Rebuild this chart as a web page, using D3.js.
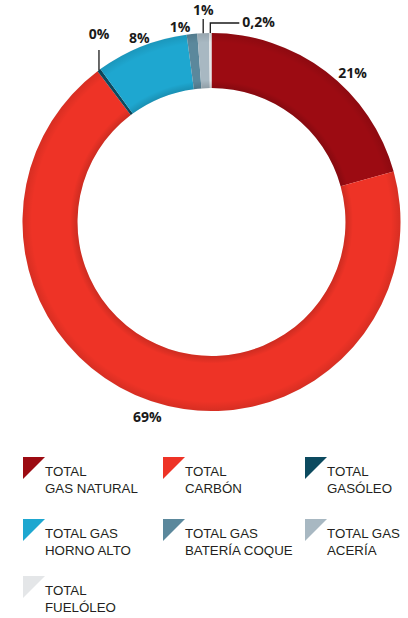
<!DOCTYPE html>
<html>
<head>
<meta charset="utf-8">
<script src="https://cdn.jsdelivr.net/npm/d3@7"></script>
<style>
  html, body { margin: 0; padding: 0; background: #fff; }
  svg { display: block; }
</style>
</head>
<body>
<div id="chart"></div>
<script>
// Datos (participación por combustible, %)
const categories = ['gasNatural', 'carbon', 'gasoleo', 'hornoAlto', 'bateriaCoque', 'aceria', 'fueloleo'];
const values = [20.7, 69.0, 0.3, 7.9, 0.9, 1.0, 0.2];
const valueLabels = ['21%', '69%', '0%', '8%', '1%', '1%', '0,2%'];
const legendLines = [
  ['TOTAL', 'GAS NATURAL'],
  ['TOTAL', 'CARBÓN'],
  ['TOTAL', 'GASÓLEO'],
  ['TOTAL GAS', 'HORNO ALTO'],
  ['TOTAL GAS', 'BATERÍA COQUE'],
  ['TOTAL GAS', 'ACERÍA'],
  ['TOTAL', 'FUELÓLEO']
];
const colors = ['#9c0b12', '#ee3326', '#0c4a5f', '#1ea7d0', '#5b889c', '#a8b8c2', '#e4e6e8'];

const width = 408, height = 618;
const cx = 211.5, cy = 222;
const outerR = 189, innerR = 134;

const svg = d3.select('#chart').append('svg')
  .attr('width', width)
  .attr('height', height);

const pie = d3.pie().sort(null).value(d => d.value);
const arc = d3.arc().innerRadius(innerR).outerRadius(outerR);

const data = categories.map((c, i) => ({ key: c, value: values[i] }));
const arcs = pie(data);

const g = svg.append('g').attr('transform', `translate(${cx},${cy})`);

g.selectAll('path.slice')
  .data(arcs)
  .enter()
  .append('path')
  .attr('class', 'slice')
  .attr('d', arc)
  .attr('fill', (d, i) => colors[i]);

// sombreado del anillo (efecto tubo)
const defs = svg.append('defs');
const grad = defs.append('radialGradient')
  .attr('id', 'ringShade')
  .attr('gradientUnits', 'userSpaceOnUse')
  .attr('cx', 0).attr('cy', 0).attr('r', outerR);
const k = innerR / outerR;
grad.append('stop').attr('offset', k).attr('stop-color', '#000').attr('stop-opacity', 0.14);
grad.append('stop').attr('offset', k + 0.04).attr('stop-color', '#000').attr('stop-opacity', 0.0);
grad.append('stop').attr('offset', 0.95).attr('stop-color', '#000').attr('stop-opacity', 0.0);
grad.append('stop').attr('offset', 1).attr('stop-color', '#000').attr('stop-opacity', 0.1);

g.append('path')
  .attr('d', d3.arc().innerRadius(innerR).outerRadius(outerR).startAngle(0).endAngle(2 * Math.PI)())
  .attr('fill', 'url(#ringShade)');

// Etiquetas
const polar = (a, r) => [Math.sin(a) * r, -Math.cos(a) * r];
const labelLayout = [
  { type: 'radial', r: 205, dx: 17, dy: 19 },
  { type: 'radial', r: 206, dx: 2, dy: 5 },
  { type: 'up', lineTo: -172, textY: -183 },
  { type: 'radial', r: 200, dx: 2, dy: 7 },
  { type: 'offset', dx: -12, textY: -190 },
  { type: 'up', lineTo: -203, textY: -207 },
  { type: 'elbow', lineTo: -199, hx: 29, textY: -195 }
];

const labelG = g.append('g')
  .attr('font-family', '"Open Sans", "DejaVu Sans", sans-serif')
  .attr('font-weight', 700)
  .attr('font-size', '14px')
  .attr('fill', '#1a1a1a');

arcs.forEach((d, i) => {
  const L = labelLayout[i];
  const mid = (d.startAngle + d.endAngle) / 2;
  const [ox, oy] = polar(mid, outerR);
  if (L.type === 'radial') {
    const [x, y] = polar(mid, L.r);
    labelG.append('text').attr('x', x + L.dx).attr('y', y + L.dy)
      .attr('text-anchor', 'middle').text(valueLabels[i]);
  } else if (L.type === 'up') {
    labelG.append('line')
      .attr('x1', ox).attr('y1', oy).attr('x2', ox).attr('y2', L.lineTo)
      .attr('stroke', '#1a1a1a').attr('stroke-width', 1.3);
    labelG.append('text').attr('x', ox).attr('y', L.textY)
      .attr('text-anchor', 'middle').text(valueLabels[i]);
  } else if (L.type === 'offset') {
    labelG.append('text').attr('x', ox + L.dx).attr('y', L.textY)
      .attr('text-anchor', 'middle').text(valueLabels[i]);
  } else if (L.type === 'elbow') {
    labelG.append('path')
      .attr('d', `M${ox},${oy}V${L.lineTo}H${ox + L.hx}`)
      .attr('fill', 'none')
      .attr('stroke', '#1a1a1a').attr('stroke-width', 1.3);
    labelG.append('text').attr('x', ox + L.hx + 3).attr('y', L.textY)
      .attr('text-anchor', 'start').text(valueLabels[i]);
  }
});

// Leyenda
const legendX = [23, 163, 305];
const legendY = [457, 519, 576];
const tri = 22;

const legend = svg.append('g')
  .attr('font-family', '"Liberation Sans", Arial, sans-serif')
  .attr('font-size', '13.3px')
  .attr('fill', '#231f20');

categories.forEach((c, i) => {
  const x = legendX[i % 3];
  const y = legendY[Math.floor(i / 3)];
  legend.append('path')
    .attr('d', `M${x},${y}H${x + tri}L${x},${y + tri}Z`)
    .attr('fill', colors[i]);
  const t = legend.append('text').attr('x', x + tri).attr('y', y + 19);
  legendLines[i].forEach((line, j) => {
    t.append('tspan').attr('x', x + tri).attr('dy', j === 0 ? 0 : 17).text(line);
  });
});
</script>
</body>
</html>
